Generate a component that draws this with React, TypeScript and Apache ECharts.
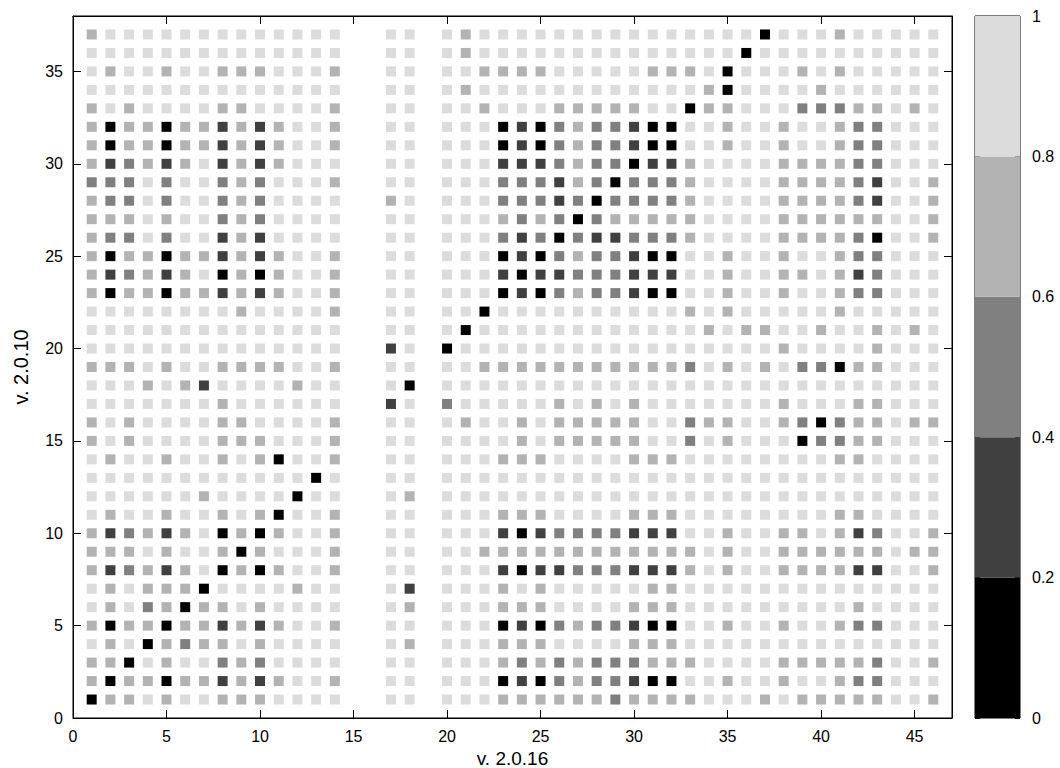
import React, { useEffect, useRef } from "react";
import * as echarts from "echarts";

// ---- data ----
const X_LABEL = "v. 2.0.16";
const Y_LABEL = "v. 2.0.10";
const X_MIN = 0;
const X_MAX = 47;
const Y_MIN = 0;
const Y_MAX = 38;
const AXIS_INTERVAL = 5;
const X_TICKS = [0, 5, 10, 15, 20, 25, 30, 35, 40, 45];
const Y_TICKS = [0, 5, 10, 15, 20, 25, 30, 35];
const COLORBAR_TICKS = [0, 0.2, 0.4, 0.6, 0.8, 1];
const LEVEL_COLORS = ["#000000", "#404040", "#808080", "#b3b3b3", "#dcdcdc"];
// value represented by each grey level (level k covers [0.2k, 0.2k+0.2])
const LEVEL_VALUES = [0.1, 0.3, 0.5, 0.7, 0.9];

// Rows from y = 37 (top) down to y = 1 (bottom); character i is x = i + 1.
// Digit = grey level index into LEVEL_VALUES, "." = no cell.
const ROWS = [
  "344444444444" + "44..44.43444" + "44444444444" + "40444344444", // 37
  "444444444444" + "44..44.43444" + "44444444444" + "04444444444", // 36
  "434434433344" + "43..44.44333" + "34444433340" + "44434344444", // 35
  "444444444444" + "44..44.43444" + "44444444430" + "44443444444", // 34
  "343444433444" + "43..44.44344" + "43333344033" + "44422233434", // 33
  "303303313134" + "43..44.44401" + "02322100443" + "44344322444", // 32
  "303303313134" + "43..44.44401" + "02322100443" + "44344322444", // 31
  "312313413134" + "44..44.44411" + "12322011344" + "44333322444", // 30
  "222424423244" + "43..44.44422" + "21320222344" + "44333321443", // 29
  "322424423244" + "44..34.44422" + "21202222344" + "44333321443", // 28
  "333434423244" + "44..44.44432" + "32023333344" + "44333333443", // 27
  "322424413144" + "44..44.44421" + "20211222344" + "44333320443", // 26
  "303303313134" + "43..44.44401" + "02322100443" + "44344322444", // 25
  "312313403034" + "43..44.44410" + "11222111443" + "44334312444", // 24
  "303303313134" + "43..44.44401" + "02322100443" + "44344322444", // 23
  "444444443444" + "43..44.44044" + "44444444343" + "44444344444", // 22
  "444444444444" + "44..44.40444" + "44444444434" + "33443443434", // 21
  "444444444444" + "44..14.04444" + "44444444444" + "44344443444", // 20
  "333434433334" + "43..44.44333" + "33333333243" + "43422033444", // 19
  "444343144443" + "44..40.44444" + "44444444444" + "44444444444", // 18
  "444444434444" + "44..14.24444" + "43434344444" + "44344433444", // 17
  "343444433444" + "43..44.43443" + "43333344233" + "44320233433", // 16
  "343444433344" + "43..44.44443" + "43333344243" + "44402233444", // 15
  "434434434304" + "43..44.44433" + "34444333444" + "44444334444", // 14
  "444444444444" + "04..44.44444" + "44444444444" + "44444444444", // 13
  "444444344440" + "44..43.44444" + "44444444444" + "44444444444", // 12
  "434434434304" + "43..44.44433" + "34444333444" + "44444334444", // 11
  "312313403034" + "43..44.44410" + "12222111443" + "44334312443", // 10
  "333434430344" + "43..44.44333" + "33333333343" + "44333333433", // 9
  "312313403034" + "43..44.44410" + "11222111343" + "44333311443", // 8
  "434333044443" + "44..41.44434" + "34444433444" + "44444444444", // 7
  "434230334344" + "44..43.44433" + "34444333444" + "44444434444", // 6
  "303303313134" + "43..44.44401" + "02322100443" + "44344322444", // 5
  "434032334344" + "44..43.44433" + "34444333444" + "44444444444", // 4
  "330434423244" + "44..44.44432" + "32322233344" + "44333332443", // 3
  "303303313134" + "43..44.44401" + "02322100443" + "44344322444", // 2
  "033434433344" + "44..44.44433" + "33332333344" + "43433333443", // 1
];

const FONT = "'Liberation Sans', Arial, Helvetica, sans-serif";

function buildCells(): [number, number, number][] {
  const cells: [number, number, number][] = [];
  const top = ROWS.length;
  ROWS.forEach((row, i) => {
    const y = top - i;
    for (let j = 0; j < row.length; j++) {
      const ch = row[j];
      if (ch === ".") continue;
      cells.push([j + 1, y, LEVEL_VALUES[Number(ch)]]);
    }
  });
  return cells;
}

export default function App() {
  const ref = useRef<HTMLDivElement | null>(null);

  useEffect(() => {
    if (!ref.current) return;
    const chart = echarts.init(ref.current, undefined, { renderer: "svg" });
    const cells = buildCells();
    const black = { color: "#000", width: 1 };

    const mainAxis = (ticks: number[], showLabels: boolean) => ({
      type: "value" as const,
      axisLine: { show: true, onZero: false, lineStyle: black },
      axisTick: { show: true, inside: true, length: 8, lineStyle: black, customValues: ticks },
      splitLine: { show: false },
      axisLabel: showLabels
        ? { fontSize: 16, color: "#000", margin: 10, fontFamily: FONT, customValues: ticks }
        : { show: false },
    });

    const option: any = {
      animation: false,
      backgroundColor: "#ffffff",
      textStyle: { fontFamily: FONT },
      grid: [
        {
          left: 73, right: 108, top: 16, bottom: 50,
          show: true, borderColor: "#000", borderWidth: 1,
          containLabel: false, outerBoundsMode: "none",
        },
        {
          left: 975, width: 45, top: 16, bottom: 50,
          show: true, borderColor: "#000", borderWidth: 1,
          containLabel: false, outerBoundsMode: "none",
        },
      ],
      xAxis: [
        {
          ...mainAxis(X_TICKS, true),
          gridIndex: 0,
          min: X_MIN,
          max: X_MAX,
          interval: AXIS_INTERVAL,
          position: "bottom",
          name: X_LABEL,
          nameLocation: "middle",
          nameGap: 29,
          nameTextStyle: { fontSize: 19, color: "#000", fontFamily: FONT },
        },
        {
          ...mainAxis(X_TICKS, false),
          gridIndex: 0,
          min: X_MIN,
          max: X_MAX,
          interval: AXIS_INTERVAL,
          position: "top",
        },
        {
          type: "category",
          gridIndex: 1,
          data: [""],
          show: false,
        },
      ],
      yAxis: [
        {
          ...mainAxis(Y_TICKS, true),
          gridIndex: 0,
          min: Y_MIN,
          max: Y_MAX,
          interval: AXIS_INTERVAL,
          position: "left",
          name: Y_LABEL,
          nameLocation: "middle",
          nameGap: 42,
          nameRotate: 90,
          nameTextStyle: { fontSize: 20, color: "#000", fontFamily: FONT },
        },
        {
          ...mainAxis(Y_TICKS, false),
          gridIndex: 0,
          min: Y_MIN,
          max: Y_MAX,
          interval: AXIS_INTERVAL,
          position: "right",
        },
        {
          type: "value",
          gridIndex: 1,
          min: COLORBAR_TICKS[0],
          max: COLORBAR_TICKS[COLORBAR_TICKS.length - 1],
          interval: 0.2,
          position: "right",
          axisLine: { show: false, onZero: false },
          axisTick: { show: true, inside: true, length: 5, lineStyle: black },
          splitLine: { show: false },
          axisLabel: {
            fontSize: 16,
            color: "#000",
            margin: 12,
            fontFamily: FONT,
            formatter: (v: number) => String(Math.round(v * 10) / 10),
          },
        },
        {
          type: "value",
          gridIndex: 1,
          min: COLORBAR_TICKS[0],
          max: COLORBAR_TICKS[COLORBAR_TICKS.length - 1],
          interval: 0.2,
          position: "left",
          axisLine: { show: false, onZero: false },
          axisTick: { show: true, inside: true, length: 5, lineStyle: black },
          splitLine: { show: false },
          axisLabel: { show: false },
        },
      ],
      visualMap: {
        type: "piecewise",
        show: false,
        dimension: 2,
        seriesIndex: 0,
        pieces: LEVEL_COLORS.map((c, k) => ({ gte: k * 0.2, lt: k * 0.2 + 0.2, color: c })),
      },
      series: [
        {
          type: "scatter",
          xAxisIndex: 0,
          yAxisIndex: 0,
          symbol: "rect",
          symbolSize: 10,
          data: cells,
          silent: true,
          itemStyle: { opacity: 1 },
        },
        ...LEVEL_COLORS.map((c) => ({
          type: "bar",
          xAxisIndex: 2,
          yAxisIndex: 2,
          stack: "colorbar",
          data: [0.2],
          barWidth: "100%",
          silent: true,
          itemStyle: { color: c },
        })),
      ],
    };

    chart.setOption(option);
    return () => chart.dispose();
  }, []);

  return (
    <div
      ref={ref}
      style={{ position: "fixed", left: 0, top: 0, width: 1060, height: 768, background: "#fff" }}
    />
  );
}
